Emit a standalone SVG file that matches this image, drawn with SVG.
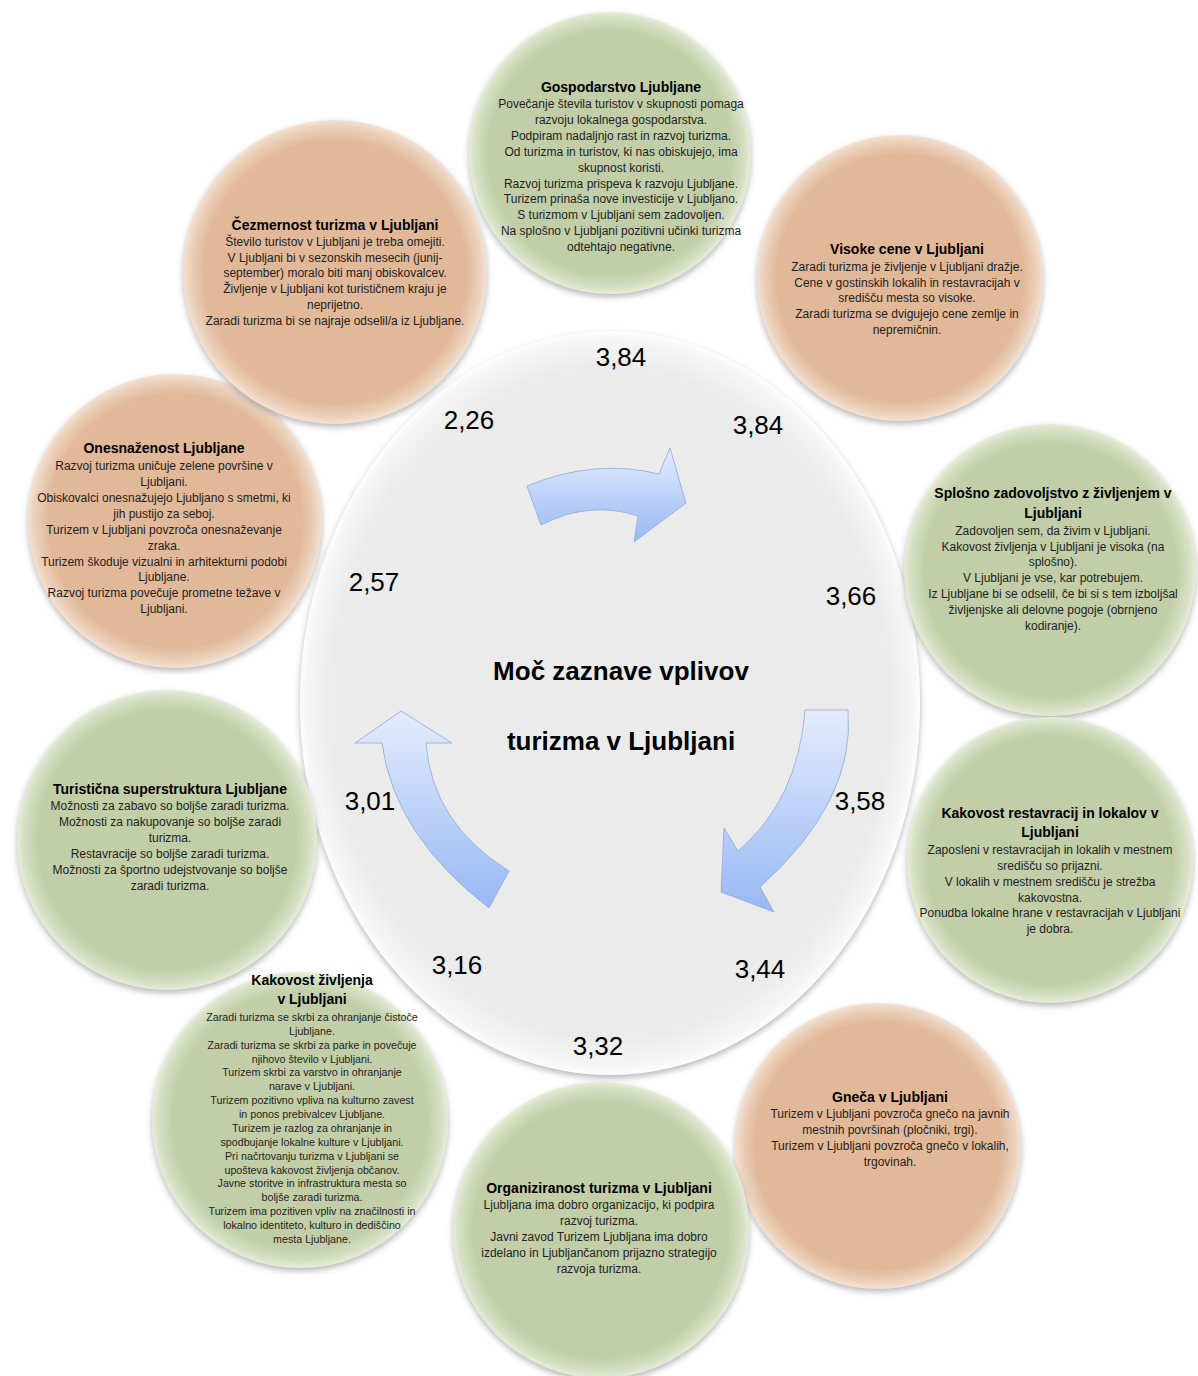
<svg xmlns="http://www.w3.org/2000/svg" width="1198" height="1376" viewBox="0 0 1198 1376">
<defs>
<style>
.t{font-family:"Liberation Sans",Arial,sans-serif;font-size:14px;font-weight:bold;fill:#000;text-anchor:middle}
.b{font-family:"Liberation Sans",Arial,sans-serif;font-size:12px;fill:#1e1e1e;text-anchor:middle}
.s{font-family:"Liberation Sans",Arial,sans-serif;font-size:10.7px;fill:#1e1e1e;text-anchor:middle}
.n{font-family:"Liberation Sans",Arial,sans-serif;font-size:26px;fill:#000;text-anchor:middle}
.c{font-family:"Liberation Sans",Arial,sans-serif;font-size:26px;font-weight:bold;fill:#000;text-anchor:middle}
.or{fill:url(#gOr);filter:url(#sh)}
.gr{fill:url(#gGr);filter:url(#sh)}
.ar{fill:url(#gAr);stroke:#8fa9d8;stroke-width:0.8}
</style>
<radialGradient id="gOr" cx="0.5" cy="0.5" r="0.5">
<stop offset="0" stop-color="#e1b898"/>
<stop offset="0.86" stop-color="#e1b898"/>
<stop offset="0.96" stop-color="#ecd2bd"/>
<stop offset="1" stop-color="#f3e2d4"/>
</radialGradient>
<radialGradient id="gGr" cx="0.5" cy="0.5" r="0.5">
<stop offset="0" stop-color="#c1cea7"/>
<stop offset="0.86" stop-color="#c1cea7"/>
<stop offset="0.96" stop-color="#d6e0c4"/>
<stop offset="1" stop-color="#e6edda"/>
</radialGradient>
<radialGradient id="gEl" cx="0.5" cy="0.5" r="0.5">
<stop offset="0" stop-color="#ebebeb"/>
<stop offset="0.9" stop-color="#ebebeb"/>
<stop offset="0.98" stop-color="#f6f6f6"/>
<stop offset="1" stop-color="#fdfdfd"/>
</radialGradient>
<linearGradient id="gAr" x1="0" y1="0" x2="0" y2="1">
<stop offset="0" stop-color="#e4ecfd"/>
<stop offset="1" stop-color="#98b8f4"/>
</linearGradient>
<filter id="sh" x="-10%" y="-10%" width="120%" height="125%">
<feGaussianBlur in="SourceAlpha" stdDeviation="3"/>
<feOffset dx="0" dy="3" result="o"/>
<feFlood flood-color="#7a7a7a" flood-opacity="0.55"/>
<feComposite in2="o" operator="in"/>
<feMerge><feMergeNode/><feMergeNode in="SourceGraphic"/></feMerge>
</filter>
</defs>
<rect width="1198" height="1376" fill="#fff"/>

<g id="center">
<ellipse cx="610" cy="703" rx="310" ry="372" fill="url(#gEl)" filter="url(#sh)"/>
<text class="c" x="621" y="680">Moč zaznave vplivov</text>
<text class="c" x="621" y="750">turizma v Ljubljani</text>
<text class="n" x="621" y="366">3,84</text>
<text class="n" x="758" y="434">3,84</text>
<text class="n" x="469" y="429">2,26</text>
<text class="n" x="851" y="605">3,66</text>
<text class="n" x="374" y="591">2,57</text>
<text class="n" x="860" y="810">3,58</text>
<text class="n" x="370" y="810">3,01</text>
<text class="n" x="457" y="974">3,16</text>
<text class="n" x="760" y="978">3,44</text>
<text class="n" x="598" y="1055">3,32</text>
</g>

<g id="connectors">
<path class="ar" d="M527,486 Q595,458 659,474 L670,448 L686,503 L634,542 L638,516 Q590,500 541,525 Z"/>
<path class="ar" d="M805,710 L848,710 Q856,801 760,887 L774,912 L721,892 L724,828 L738,851 Q798,800 805,710 Z"/>
<path class="ar" d="M509,871 L489,908 Q394,835 382,743 L355,743 L401,711 L452,743 L426,743 Q432,823 509,871 Z"/>
</g>

<g id="gospodarstvo">
<circle class="gr" cx="610" cy="153" r="141"/>
<text class="t" x="621" y="92">Gospodarstvo Ljubljane</text>
<text class="b" x="621" y="108">Povečanje števila turistov v skupnosti pomaga</text>
<text class="b" x="621" y="124">razvoju lokalnega gospodarstva.</text>
<text class="b" x="621" y="140">Podpiram nadaljnjo rast in razvoj turizma.</text>
<text class="b" x="621" y="156">Od turizma in turistov, ki nas obiskujejo, ima</text>
<text class="b" x="621" y="172">skupnost koristi.</text>
<text class="b" x="621" y="188">Razvoj turizma prispeva k razvoju Ljubljane.</text>
<text class="b" x="621" y="203">Turizem prinaša nove investicije v Ljubljano.</text>
<text class="b" x="621" y="219">S turizmom v Ljubljani sem zadovoljen.</text>
<text class="b" x="621" y="235">Na splošno v Ljubljani pozitivni učinki turizma</text>
<text class="b" x="621" y="251">odtehtajo negativne.</text>
</g>

<g id="visoke-cene">
<circle class="or" cx="900" cy="278" r="143"/>
<text class="t" x="907" y="254">Visoke cene v Ljubljani</text>
<text class="b" x="907" y="271">Zaradi turizma je življenje v Ljubljani dražje.</text>
<text class="b" x="907" y="287">Cene v gostinskih lokalih in restavracijah v</text>
<text class="b" x="907" y="302">središču mesta so visoke.</text>
<text class="b" x="907" y="318">Zaradi turizma se dvigujejo cene zemlje in</text>
<text class="b" x="907" y="334">nepremičnin.</text>
</g>

<g id="splosno">
<circle class="gr" cx="1050" cy="570" r="146"/>
<text class="t" x="1053" y="498">Splošno zadovoljstvo z življenjem v</text>
<text class="t" x="1053" y="518">Ljubljani</text>
<text class="b" x="1053" y="535">Zadovoljen sem, da živim v Ljubljani.</text>
<text class="b" x="1053" y="551">Kakovost življenja v Ljubljani je visoka (na</text>
<text class="b" x="1053" y="566">splošno).</text>
<text class="b" x="1053" y="582">V Ljubljani je vse, kar potrebujem.</text>
<text class="b" x="1053" y="598">Iz Ljubljane bi se odselil, če bi si s tem izboljšal</text>
<text class="b" x="1053" y="614">življenjske ali delovne pogoje (obrnjeno</text>
<text class="b" x="1053" y="630">kodiranje).</text>
</g>

<g id="restavracije">
<circle class="gr" cx="1050" cy="860" r="143"/>
<text class="t" x="1050" y="818">Kakovost restavracij in lokalov v</text>
<text class="t" x="1050" y="837">Ljubljani</text>
<text class="b" x="1050" y="854">Zaposleni v restavracijah in lokalih v mestnem</text>
<text class="b" x="1050" y="870">središču so prijazni.</text>
<text class="b" x="1050" y="886">V lokalih v mestnem središču je strežba</text>
<text class="b" x="1050" y="902">kakovostna.</text>
<text class="b" x="1050" y="917">Ponudba lokalne hrane v restavracijah v Ljubljani</text>
<text class="b" x="1050" y="933">je dobra.</text>
</g>

<g id="gneca">
<circle class="or" cx="878" cy="1146" r="143"/>
<text class="t" x="890" y="1102">Gneča v Ljubljani</text>
<text class="b" x="890" y="1118">Turizem v Ljubljani povzroča gnečo na javnih</text>
<text class="b" x="890" y="1134">mestnih površinah (pločniki, trgi).</text>
<text class="b" x="890" y="1150">Turizem v Ljubljani povzroča gnečo v lokalih,</text>
<text class="b" x="890" y="1166">trgovinah.</text>
</g>

<g id="organiziranost">
<circle class="gr" cx="601" cy="1230" r="148"/>
<text class="t" x="599" y="1193">Organiziranost turizma v Ljubljani</text>
<text class="b" x="599" y="1209">Ljubljana ima dobro organizacijo, ki podpira</text>
<text class="b" x="599" y="1225">razvoj turizma.</text>
<text class="b" x="599" y="1241">Javni zavod Turizem Ljubljana ima dobro</text>
<text class="b" x="599" y="1257">izdelano in Ljubljančanom prijazno strategijo</text>
<text class="b" x="599" y="1273">razvoja turizma.</text>
</g>

<g id="kakovost-zivljenja">
<circle class="gr" cx="300" cy="1120" r="148"/>
<text class="t" x="312" y="985">Kakovost življenja</text>
<text class="t" x="312" y="1004">v Ljubljani</text>
<text class="s" x="312" y="1021">Zaradi turizma se skrbi za ohranjanje čistoče</text>
<text class="s" x="312" y="1035">Ljubljane.</text>
<text class="s" x="312" y="1049">Zaradi turizma se skrbi za parke in povečuje</text>
<text class="s" x="312" y="1063">njihovo število v Ljubljani.</text>
<text class="s" x="312" y="1076">Turizem skrbi za varstvo in ohranjanje</text>
<text class="s" x="312" y="1090">narave v Ljubljani.</text>
<text class="s" x="312" y="1104">Turizem pozitivno vpliva na kulturno zavest</text>
<text class="s" x="312" y="1118">in ponos prebivalcev Ljubljane.</text>
<text class="s" x="312" y="1132">Turizem je razlog za ohranjanje in</text>
<text class="s" x="312" y="1146">spodbujanje lokalne kulture v Ljubljani.</text>
<text class="s" x="312" y="1160">Pri načrtovanju turizma v Ljubljani se</text>
<text class="s" x="312" y="1174">upošteva kakovost življenja občanov.</text>
<text class="s" x="312" y="1187">Javne storitve in infrastruktura mesta so</text>
<text class="s" x="312" y="1201">boljše zaradi turizma.</text>
<text class="s" x="312" y="1215">Turizem ima pozitiven vpliv na značilnosti in</text>
<text class="s" x="312" y="1229">lokalno identiteto, kulturo in dediščino</text>
<text class="s" x="312" y="1243">mesta Ljubljane.</text>
</g>

<g id="turisticna">
<circle class="gr" cx="167" cy="840" r="150"/>
<text class="t" x="170" y="794">Turistična superstruktura Ljubljane</text>
<text class="b" x="170" y="810">Možnosti za zabavo so boljše zaradi turizma.</text>
<text class="b" x="170" y="826">Možnosti za nakupovanje so boljše zaradi</text>
<text class="b" x="170" y="842">turizma.</text>
<text class="b" x="170" y="858">Restavracije so boljše zaradi turizma.</text>
<text class="b" x="170" y="874">Možnosti za športno udejstvovanje so boljše</text>
<text class="b" x="170" y="890">zaradi turizma.</text>
</g>

<g id="onesnazenost">
<circle class="or" cx="175" cy="521" r="147"/>
<text class="t" x="164" y="453">Onesnaženost Ljubljane</text>
<text class="b" x="164" y="470">Razvoj turizma uničuje zelene površine v</text>
<text class="b" x="164" y="486">Ljubljani.</text>
<text class="b" x="164" y="502">Obiskovalci onesnažujejo Ljubljano s smetmi, ki</text>
<text class="b" x="164" y="518">jih pustijo za seboj.</text>
<text class="b" x="164" y="534">Turizem v Ljubljani povzroča onesnaževanje</text>
<text class="b" x="164" y="550">zraka.</text>
<text class="b" x="164" y="566">Turizem škoduje vizualni in arhitekturni podobi</text>
<text class="b" x="164" y="581">Ljubljane.</text>
<text class="b" x="164" y="597">Razvoj turizma povečuje prometne težave v</text>
<text class="b" x="164" y="613">Ljubljani.</text>
</g>

<g id="cezmernost">
<circle class="or" cx="335" cy="272" r="152"/>
<text class="t" x="335" y="230">Čezmernost turizma v Ljubljani</text>
<text class="b" x="335" y="246">Število turistov v Ljubljani je treba omejiti.</text>
<text class="b" x="335" y="262">V Ljubljani bi v sezonskih mesecih (junij-</text>
<text class="b" x="335" y="277">september) moralo biti manj obiskovalcev.</text>
<text class="b" x="335" y="293">Življenje v Ljubljani kot turističnem kraju je</text>
<text class="b" x="335" y="309">neprijetno.</text>
<text class="b" x="335" y="325">Zaradi turizma bi se najraje odselil/a iz Ljubljane.</text>
</g>
</svg>
